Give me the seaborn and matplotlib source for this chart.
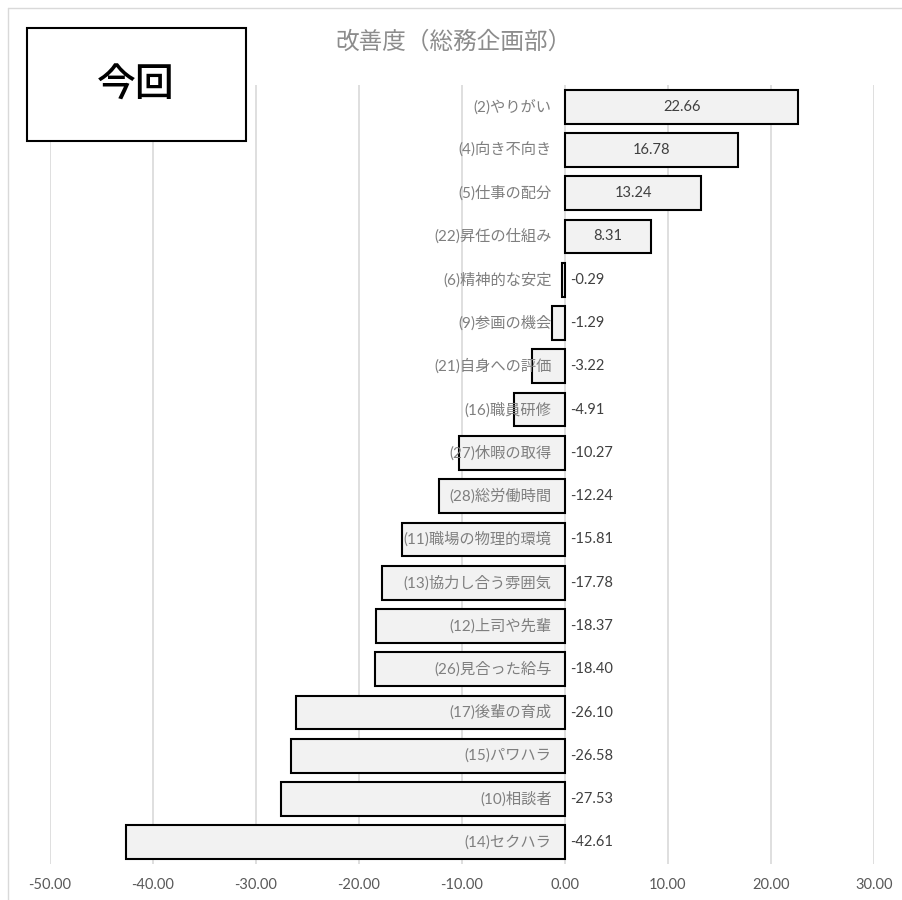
import matplotlib
matplotlib.use("Agg")
import matplotlib.pyplot as plt
import seaborn as sns
import pandas as pd
from matplotlib.patches import Rectangle
from matplotlib.lines import Line2D

categories = ["(2)やりがい", "(4)向き不向き", "(5)仕事の配分", "(22)昇任の仕組み",
              "(6)精神的な安定", "(9)参画の機会", "(21)自身への評価", "(16)職員研修",
              "(27)休暇の取得", "(28)総労働時間", "(11)職場の物理的環境", "(13)協力し合う雰囲気",
              "(12)上司や先輩", "(26)見合った給与", "(17)後輩の育成", "(15)パワハラ",
              "(10)相談者", "(14)セクハラ"]
values = [22.66, 16.78, 13.24, 8.31, -0.29, -1.29, -3.22, -4.91, -10.27, -12.24,
          -15.81, -17.78, -18.37, -18.40, -26.10, -26.58, -27.53, -42.61]
xticks = [-50, -40, -30, -20, -10, 0, 10, 20, 30]
title = "改善度（総務企画部）"
badge = "今回"

sns.set_theme(style="white")
FAM = ['Lato', 'Noto Sans CJK JP', 'DejaVu Sans']
plt.rcParams['font.family'] = FAM

df = pd.DataFrame({"cat": categories, "val": values})

fig = plt.figure(figsize=(9.02, 9.0), dpi=100)
ax = fig.add_axes([50/902, 36/900, 824/902, 779/900])

sns.barplot(data=df, x="val", y="cat", orient="h", color="#f2f2f2",
            edgecolor="black", linewidth=1.5, width=0.78, ax=ax, zorder=2,
            saturation=1)

ax.set_xlim(-50, 30)
ax.set_ylim(len(categories) - 0.5, -0.5)
ax.set_xticks(xticks)
ax.set_xticklabels([f"{t:.2f}" for t in xticks], color="#595959", fontsize=10.5)
ax.tick_params(axis="x", length=0, pad=10)
ax.set_yticks([])
ax.set_xlabel("")
ax.set_ylabel("")
for s in ax.spines.values():
    s.set_visible(False)
ax.grid(axis="x", color="#d9d9d9", linewidth=1.2, zorder=0)
ax.set_axisbelow(True)

for i, (c, v) in enumerate(zip(categories, values)):
    ax.text(-1.3, i, c, ha="right", va="center", color="#7f7f7f", fontsize=11, zorder=5)
    if v >= 0:
        ax.text(v / 2, i, f"{v:.2f}", ha="center", va="center", color="#404040", fontsize=10.5, zorder=5)
    else:
        ax.text(0.5, i, f"{v:.2f}", ha="left", va="center", color="#404040", fontsize=10.5, zorder=5)

fig.text(453/902, 1 - 42/900, title, ha="center", va="center", color="#8c8c8c",
         fontsize=17, family=['Noto Sans CJK JP', 'DejaVu Sans'])

fig.add_artist(Rectangle((27/902, 1 - 141/900), 219/902, 113/900, transform=fig.transFigure,
                         facecolor="white", edgecolor="black", linewidth=1.5, zorder=10))
fig.text(136/902, 1 - 86/900, badge, ha="center", va="center", color="black",
         fontsize=28, fontweight="medium", zorder=11, family=['Noto Sans CJK JP', 'DejaVu Sans'])

fig.add_artist(Line2D([8/902, 1], [1 - 8/900, 1 - 8/900], transform=fig.transFigure,
                      color="#d9d9d9", linewidth=1))
fig.add_artist(Line2D([8/902, 8/902], [0, 1 - 8/900], transform=fig.transFigure,
                      color="#d9d9d9", linewidth=1))

fig.savefig("out.png", dpi=100, facecolor="white")
